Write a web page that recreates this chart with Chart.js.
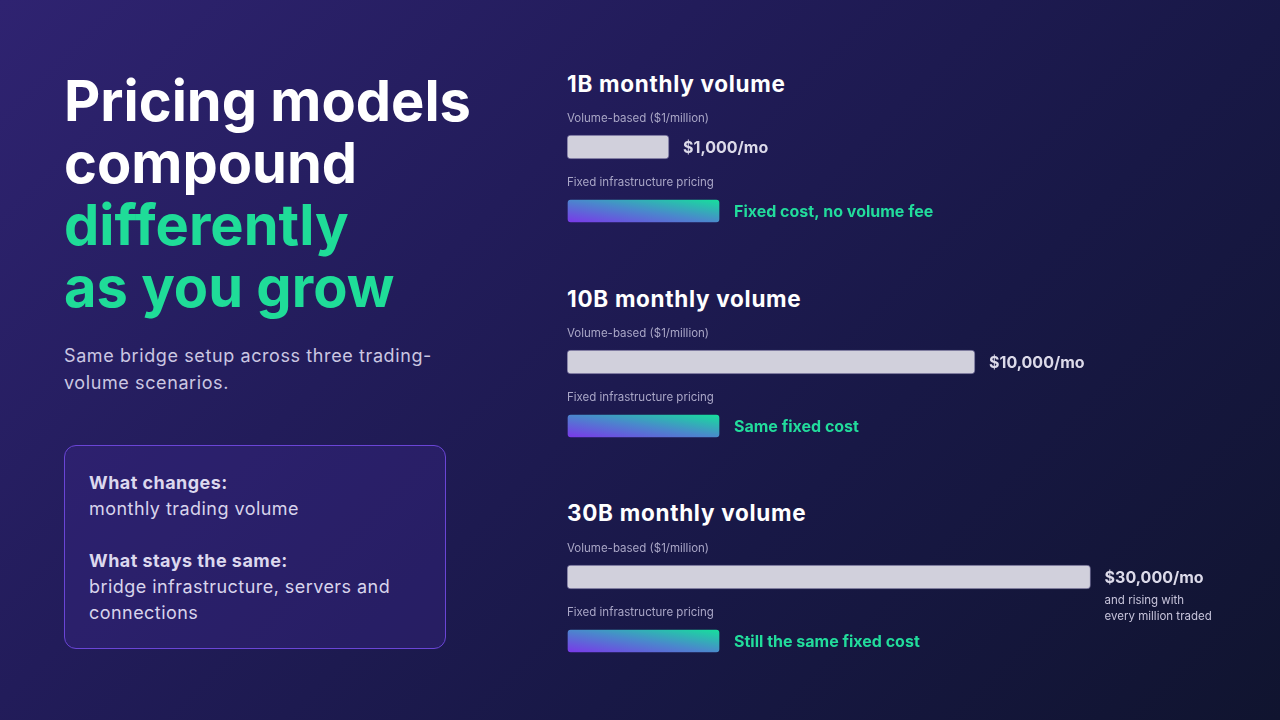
<!DOCTYPE html>
<html>
<head>
<meta charset="utf-8">
<script src="https://cdn.jsdelivr.net/npm/chart.js@4.4.1/dist/chart.umd.min.js"></script>
<style>
  html, body { margin:0; padding:0; width:1280px; height:720px; overflow:hidden; }
  body {
    background: linear-gradient(135deg, #2f2371 0%, #221c5a 35%, #181846 65%, #10142f 100%);
    font-family: Inter, "Noto Sans", sans-serif;
    position: relative;
  }
  .title { position:absolute; left:64px; top:70px; margin:0; font-size:56px; line-height:62px; font-weight:700; color:#ffffff; letter-spacing:0; }
  .title .g { color:#1fdc98; }
  .sub { position:absolute; left:64px; top:342px; width:410px; font-size:18px; line-height:27px; color:#cbc7e2; margin:0; letter-spacing:0.6px; }
  .box { position:absolute; left:64px; top:445px; width:382px; height:204px; box-sizing:border-box; border:1px solid #6a45d6; border-radius:12px; background: rgba(60,40,140,0.35); padding:24px 24px; color:#d8d4ec; font-size:18px; line-height:26px; letter-spacing:0.45px; }
  .box b { font-weight:700; color:#dcd8ee; }
  .box p { margin:0 0 26px 0; }
  .h { position:absolute; left:567px; margin:0; font-size:22.5px; font-weight:700; color:#ffffff; line-height:28px; letter-spacing:0.7px; }
  .cv { position:absolute; left:567px; width:713px; height:150px; }
</style>
</head>
<body>
<h1 class="title">Pricing models<br>compound<br><span class="g">differently<br>as you grow</span></h1>
<p class="sub">Same bridge setup across three trading-volume scenarios.</p>
<div class="box">
  <p><b>What changes:</b><br>monthly trading volume</p>
  <p style="margin:0"><b>What stays the same:</b><br>bridge infrastructure, servers and connections</p>
</div>

<h2 class="h" id="h0" style="top:70px"></h2>
<h2 class="h" id="h1" style="top:285px"></h2>
<h2 class="h" id="h2" style="top:499px"></h2>
<div class="cv" style="top:93px"><canvas id="c0"></canvas></div>
<div class="cv" style="top:308px"><canvas id="c1"></canvas></div>
<div class="cv" style="top:523px"><canvas id="c2"></canvas></div>

<script>
// ---- data ----
const scenarios = ["1B monthly volume", "10B monthly volume", "30B monthly volume"];
const rowLabels = ["Volume-based ($1/million)", "Fixed infrastructure pricing"];
// bar lengths as % of the track
const volumeBar = [15, 60, 77];
const fixedBar = [22.5, 22.5, 22.5];
const volumeText = ["$1,000/mo", "$10,000/mo", "$30,000/mo"];
const fixedText = ["Fixed cost, no volume fee", "Same fixed cost", "Still the same fixed cost"];
const volumeNote = [null, null, ["and rising with", "every million traded"]];

const FONT = 'Inter, "Noto Sans", sans-serif';
const BAR_H = 24;

const labelPlugin = {
  id: 'labels',
  afterDatasetsDraw(chart) {
    const ctx = chart.ctx;
    const meta = chart.getDatasetMeta(0);
    const gi = chart.options.plugins.labels.group;
    const texts = [volumeText[gi], fixedText[gi]];
    ctx.save();
    meta.data.forEach((bar, i) => {
      const top = bar.y - bar.height / 2;
      ctx.font = '400 11.5px ' + FONT;
      ctx.fillStyle = '#a9a6c6';
      ctx.textAlign = 'left';
      ctx.textBaseline = 'middle';
      ctx.fillText(rowLabels[i], chart.chartArea.left, top - 16);
      ctx.font = '700 16px ' + FONT;
      ctx.fillStyle = i === 0 ? '#dcdae9' : '#22dc9c';
      ctx.fillText(texts[i], bar.x + 14, bar.y + 1);
      if (i === 0 && volumeNote[gi]) {
        ctx.font = '400 11.5px ' + FONT;
        ctx.fillStyle = '#c6c3da';
        volumeNote[gi].forEach((t, k) => ctx.fillText(t, bar.x + 14, bar.y + 24 + k * 16));
      }
    });
    ctx.restore();
  }
};

function makeChart(gi) {
  document.getElementById('h' + gi).textContent = scenarios[gi];
  const el = document.getElementById('c' + gi);
  return new Chart(el, {
    type: 'bar',
    data: {
      labels: rowLabels,
      datasets: [{
        data: [volumeBar[gi], fixedBar[gi]],
        barThickness: BAR_H,
        borderRadius: 4,
        borderSkipped: false,
        borderWidth: 1,
        borderColor: (c) => c.dataIndex === 0 ? 'rgba(150,145,185,0.6)' : 'rgba(0,0,0,0)',
        backgroundColor: (c) => {
          if (c.dataIndex === 0) return '#d1d0dc';
          const ch = c.chart;
          if (!ch.chartArea) return '#3fa0c0';
          const xs = ch.scales.x, ys = ch.scales.y;
          const x0 = xs.getPixelForValue(0), x1 = xs.getPixelForValue(c.raw);
          const yc = ys.getPixelForValue(c.dataIndex);
          const w = x1 - x0, h = BAR_H;
          const cx = (x0 + x1) / 2;
          const n = Math.sqrt(w * w + h * h);
          const dx = h / n, dy = -w / n;
          const L = w * h / n;
          const g = ch.ctx.createLinearGradient(cx - dx * L, yc - dy * L, cx + dx * L, yc + dy * L);
          g.addColorStop(0, '#7c35ea');
          g.addColorStop(0.5, '#4a88cc');
          g.addColorStop(1, '#14e39a');
          return g;
        }
      }]
    },
    options: {
      indexAxis: 'y',
      responsive: true,
      maintainAspectRatio: false,
      animation: false,
      layout: { padding: { left: 0, right: 33, top: 22, bottom: 0 } },
      scales: {
        x: { display: false, min: 0, max: 100 },
        y: { display: false, offset: true }
      },
      plugins: { legend: { display: false }, tooltip: { enabled: false }, labels: { group: gi } }
    },
    plugins: [labelPlugin]
  });
}
[0, 1, 2].forEach(makeChart);
</script>
</body>
</html>
